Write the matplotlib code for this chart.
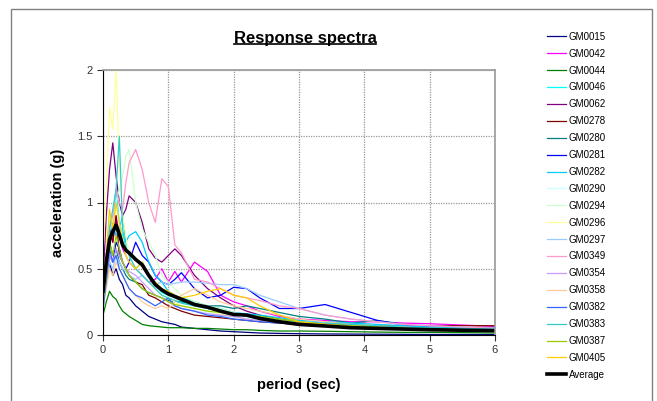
import numpy as np
import matplotlib
matplotlib.use("Agg")
import matplotlib.pyplot as plt
from matplotlib.patches import Rectangle
from matplotlib.lines import Line2D

plt.rcParams['font.family'] = ['Liberation Sans', 'DejaVu Sans']

# periods (sec) where the spectra are read
periods = [0, 0.05, 0.1, 0.15, 0.2, 0.25, 0.3, 0.35, 0.4, 0.5, 0.6, 0.7, 0.8, 0.9, 1.0, 1.1,
           1.2, 1.4, 1.6, 1.8, 2.0, 2.2, 2.4, 2.7, 3.0, 3.4, 3.8, 4.2, 4.6, 5.0, 5.5, 6.0]

gm0015 = [0.30, 0.40, 0.55, 0.45, 0.50, 0.42, 0.38, 0.30, 0.28, 0.22, 0.18, 0.14, 0.12, 0.10, 0.09, 0.08,
          0.06, 0.05, 0.04, 0.03, 0.025, 0.02, 0.015, 0.012, 0.01, 0.008, 0.007, 0.006, 0.005, 0.004, 0.004, 0.003]
gm0042 = [0.25, 0.45, 0.80, 0.70, 0.90, 0.75, 0.65, 0.60, 0.55, 0.50, 0.45, 0.40, 0.42, 0.50, 0.40, 0.48,
          0.40, 0.55, 0.48, 0.30, 0.25, 0.22, 0.18, 0.14, 0.12, 0.11, 0.10, 0.10, 0.09, 0.085, 0.075, 0.065]
gm0044 = [0.15, 0.25, 0.33, 0.29, 0.27, 0.22, 0.18, 0.16, 0.14, 0.11, 0.08, 0.07, 0.065, 0.06, 0.055, 0.055,
          0.055, 0.05, 0.05, 0.045, 0.04, 0.04, 0.035, 0.03, 0.03, 0.028, 0.025, 0.022, 0.02, 0.02, 0.018, 0.015]
gm0046 = [0.30, 0.50, 0.90, 0.80, 1.10, 0.85, 0.75, 0.70, 0.60, 0.50, 0.55, 0.45, 0.38, 0.32, 0.30, 0.28,
          0.25, 0.22, 0.20, 0.18, 0.16, 0.14, 0.12, 0.10, 0.09, 0.08, 0.07, 0.06, 0.055, 0.05, 0.045, 0.04]
gm0062 = [0.40, 0.90, 1.25, 1.45, 1.20, 1.00, 0.90, 0.95, 1.05, 1.00, 0.85, 0.65, 0.58, 0.55, 0.60, 0.65,
          0.60, 0.45, 0.35, 0.28, 0.22, 0.18, 0.15, 0.12, 0.10, 0.08, 0.07, 0.06, 0.05, 0.045, 0.04, 0.035]
gm0278 = [0.35, 0.60, 0.80, 0.70, 0.90, 0.60, 0.55, 0.50, 0.45, 0.40, 0.38, 0.30, 0.28, 0.25, 0.22, 0.20,
          0.18, 0.15, 0.14, 0.13, 0.12, 0.11, 0.10, 0.09, 0.08, 0.08, 0.075, 0.07, 0.07, 0.07, 0.07, 0.07]
gm0280 = [0.30, 0.50, 0.70, 0.60, 0.65, 0.55, 0.50, 0.45, 0.42, 0.40, 0.35, 0.32, 0.30, 0.28, 0.26, 0.25,
          0.25, 0.24, 0.22, 0.22, 0.20, 0.22, 0.20, 0.17, 0.14, 0.12, 0.09, 0.11, 0.08, 0.06, 0.05, 0.05]
gm0281 = [0.20, 0.45, 0.60, 0.55, 0.70, 0.65, 0.55, 0.50, 0.55, 0.70, 0.60, 0.55, 0.45, 0.40, 0.38, 0.42,
          0.47, 0.35, 0.28, 0.30, 0.36, 0.35, 0.28, 0.20, 0.20, 0.23, 0.17, 0.11, 0.075, 0.06, 0.055, 0.05]
gm0282 = [0.25, 0.50, 0.70, 0.85, 0.75, 0.80, 0.90, 0.70, 0.75, 0.78, 0.70, 0.55, 0.45, 0.40, 0.33, 0.30,
          0.28, 0.25, 0.22, 0.20, 0.17, 0.16, 0.15, 0.13, 0.11, 0.10, 0.09, 0.08, 0.07, 0.06, 0.055, 0.05]
gm0290 = [0.35, 0.60, 0.90, 0.80, 1.00, 0.85, 0.70, 0.60, 0.55, 0.50, 0.45, 0.40, 0.35, 0.30, 0.28, 0.25,
          0.22, 0.20, 0.17, 0.15, 0.13, 0.12, 0.11, 0.10, 0.09, 0.07, 0.06, 0.05, 0.045, 0.04, 0.035, 0.03]
gm0294 = [0.30, 0.60, 0.90, 0.85, 1.00, 1.10, 1.20, 1.35, 1.40, 1.00, 0.80, 0.70, 0.60, 0.45, 0.40, 0.35,
          0.30, 0.25, 0.22, 0.20, 0.17, 0.15, 0.13, 0.11, 0.10, 0.08, 0.07, 0.06, 0.05, 0.045, 0.04, 0.035]
gm0296 = [0.60, 1.10, 1.72, 1.55, 2.00, 1.30, 0.90, 0.75, 0.60, 0.50, 0.45, 0.40, 0.35, 0.30, 0.28, 0.25,
          0.22, 0.20, 0.18, 0.16, 0.14, 0.12, 0.11, 0.10, 0.08, 0.07, 0.06, 0.05, 0.045, 0.04, 0.035, 0.03]
gm0297 = [0.20, 0.40, 0.55, 0.50, 0.60, 0.55, 0.50, 0.48, 0.45, 0.42, 0.45, 0.40, 0.38, 0.40, 0.38, 0.39,
          0.40, 0.40, 0.39, 0.38, 0.38, 0.35, 0.30, 0.25, 0.20, 0.15, 0.12, 0.10, 0.08, 0.07, 0.06, 0.05]
gm0349 = [0.30, 0.55, 0.80, 0.90, 1.10, 1.00, 0.95, 1.15, 1.30, 1.40, 1.25, 1.00, 0.85, 1.18, 1.12, 0.68,
          0.62, 0.42, 0.40, 0.35, 0.30, 0.28, 0.26, 0.22, 0.20, 0.15, 0.12, 0.10, 0.08, 0.07, 0.06, 0.05]
gm0354 = [0.25, 0.45, 0.60, 0.55, 0.65, 0.60, 0.55, 0.50, 0.48, 0.45, 0.40, 0.35, 0.30, 0.28, 0.25, 0.22,
          0.20, 0.18, 0.16, 0.15, 0.14, 0.12, 0.11, 0.10, 0.09, 0.07, 0.06, 0.05, 0.045, 0.04, 0.035, 0.03]
gm0358 = [0.20, 0.35, 0.50, 0.45, 0.55, 0.50, 0.45, 0.40, 0.35, 0.30, 0.25, 0.22, 0.20, 0.22, 0.20, 0.25,
          0.30, 0.35, 0.30, 0.25, 0.22, 0.20, 0.18, 0.15, 0.12, 0.10, 0.08, 0.07, 0.06, 0.05, 0.045, 0.04]
gm0382 = [0.20, 0.40, 0.65, 0.55, 0.60, 0.50, 0.45, 0.40, 0.35, 0.30, 0.28, 0.25, 0.22, 0.25, 0.28, 0.22,
          0.20, 0.18, 0.15, 0.14, 0.12, 0.11, 0.10, 0.09, 0.08, 0.07, 0.06, 0.055, 0.05, 0.045, 0.04, 0.04]
gm0383 = [0.30, 0.55, 0.80, 0.95, 1.10, 1.50, 0.80, 0.65, 0.60, 0.50, 0.45, 0.40, 0.35, 0.30, 0.28, 0.26,
          0.24, 0.22, 0.20, 0.18, 0.16, 0.15, 0.14, 0.12, 0.10, 0.09, 0.08, 0.07, 0.06, 0.055, 0.05, 0.045]
gm0387 = [0.25, 0.45, 0.70, 0.60, 0.75, 0.65, 0.55, 0.50, 0.45, 0.40, 0.35, 0.32, 0.30, 0.28, 0.25, 0.23,
          0.22, 0.20, 0.18, 0.17, 0.16, 0.15, 0.14, 0.12, 0.10, 0.08, 0.07, 0.06, 0.05, 0.045, 0.04, 0.035]
gm0405 = [0.30, 0.60, 0.95, 0.80, 1.00, 0.85, 0.70, 0.60, 0.55, 0.50, 0.55, 0.45, 0.40, 0.35, 0.33, 0.30,
          0.28, 0.30, 0.33, 0.35, 0.30, 0.28, 0.22, 0.15, 0.10, 0.08, 0.06, 0.05, 0.04, 0.035, 0.03, 0.03]
average = [0.33, 0.55, 0.72, 0.78, 0.83, 0.76, 0.68, 0.64, 0.62, 0.57, 0.53, 0.45, 0.38, 0.34, 0.31, 0.29,
           0.27, 0.23, 0.21, 0.18, 0.155, 0.15, 0.125, 0.10, 0.08, 0.068, 0.055, 0.05, 0.045, 0.04, 0.036, 0.033]

names = ["GM0015", "GM0042", "GM0044", "GM0046", "GM0062", "GM0278", "GM0280", "GM0281", "GM0282", "GM0290",
         "GM0294", "GM0296", "GM0297", "GM0349", "GM0354", "GM0358", "GM0382", "GM0383", "GM0387", "GM0405"]
series = [gm0015, gm0042, gm0044, gm0046, gm0062, gm0278, gm0280, gm0281, gm0282, gm0290,
          gm0294, gm0296, gm0297, gm0349, gm0354, gm0358, gm0382, gm0383, gm0387, gm0405]
colors = ["#000080", "#FF00FF", "#008000", "#00FFFF", "#800080", "#800000", "#008080", "#0000FF", "#00CCFF", "#CCFFFF",
          "#CCFFCC", "#FFFF99", "#99CCFF", "#FF99CC", "#CC99FF", "#FFCC99", "#3366FF", "#33CCCC", "#99CC00", "#FFCC00"]

x_ticks = [0, 1, 2, 3, 4, 5, 6]
y_ticks = [0, 0.5, 1, 1.5, 2]
y_tick_labels = ["0", "0.5", "1", "1.5", "2"]

fig = plt.figure(figsize=(6.57, 4.01), dpi=100)
ax = fig.add_axes([103/657, 1 - 335/401, (495 - 103)/657, (335 - 70)/401])

for name, vals, c in zip(names, series, colors):
    ax.plot(periods, vals, color=c, lw=0.9, label=name)
ax.plot(periods, average, color="black", lw=2.6, label="Average")

ax.set_xlim(0, 6)
ax.set_ylim(0, 2)
ax.set_xticks(x_ticks)
ax.set_yticks(y_ticks)
ax.set_yticklabels(y_tick_labels)
ax.tick_params(labelsize=8, colors="#333333", length=4, direction="out", width=0.8)
ax.grid(True, color="#999999", linestyle=(0, (1, 1)), lw=0.9)
for s in ["top", "right"]:
    ax.spines[s].set_color("#999999")
    ax.spines[s].set_linewidth(1.2)
for s in ["left", "bottom"]:
    ax.spines[s].set_color("black")

ax.set_xlabel("period (sec)", fontsize=10.5, fontweight="bold", labelpad=16)
ax.set_ylabel("acceleration (g)", fontsize=10.5, fontweight="bold", labelpad=9)

title = fig.text(305/657, 1 - 38/401, "Response spectra", fontsize=12, fontweight="bold",
                 ha="center", va="center")

leg = fig.legend(loc="upper left", bbox_to_anchor=(538/657, 1 - 23/401), frameon=False,
                 fontsize=7, handlelength=2.0, handletextpad=0.25, labelspacing=0.71)

# outer chart border
fig.patches.append(Rectangle((11/657, -0.02), (652 - 11)/657, 1 - 9/401 + 0.02,
                             transform=fig.transFigure, fill=False, edgecolor="#808080", lw=1))

# underline the title
fig.canvas.draw()
bb = title.get_window_extent().transformed(fig.transFigure.inverted())
fig.lines.append(Line2D([bb.x0, bb.x1], [bb.y0 + 0.004, bb.y0 + 0.004], transform=fig.transFigure,
                        color="black", lw=1.2))

fig.savefig("out.png", dpi=100)
